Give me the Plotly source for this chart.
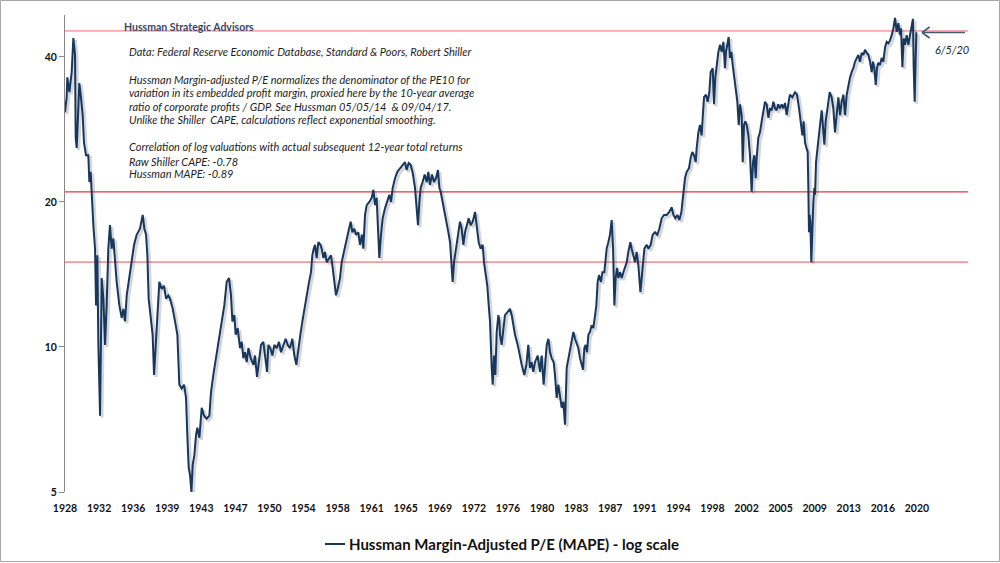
import plotly.graph_objects as go

# ---- data (decimal year, MAPE value) ----
mape_year = [
    1928.90, 1929.08, 1929.15, 1929.37, 1929.62, 1929.80, 1929.98, 1930.05, 1930.16, 1930.33,
    1930.44, 1930.59, 1930.80, 1930.94, 1931.16, 1931.41, 1931.52, 1931.66, 1931.81, 1931.95,
    1932.13, 1932.24, 1932.38, 1932.49, 1932.67, 1932.85, 1933.03, 1933.21, 1933.38, 1933.56,
    1933.74, 1933.92, 1934.10, 1934.28, 1934.46, 1934.75, 1935.00, 1935.18, 1935.36, 1935.54,
    1935.79, 1936.07, 1936.33, 1936.61, 1936.97, 1937.26, 1937.44, 1937.62, 1937.76, 1937.90,
    1938.12, 1938.33, 1938.48, 1938.69, 1938.87, 1939.05, 1939.30, 1939.55, 1939.77, 1940.02,
    1940.20, 1940.49, 1940.74, 1940.99, 1941.20, 1941.45, 1941.71, 1941.92, 1942.06, 1942.21,
    1942.35, 1942.50, 1942.64, 1942.82, 1943.00, 1943.14, 1943.36, 1943.61, 1943.86, 1944.14,
    1944.43,
    1944.61, 1944.86, 1945.04, 1945.33, 1945.58, 1945.83, 1946.04, 1946.30, 1946.55, 1946.76,
    1946.91, 1947.12, 1947.26, 1947.48, 1947.73, 1947.91, 1948.09, 1948.27, 1948.45, 1948.63,
    1948.88, 1949.17, 1949.34, 1949.56, 1949.78, 1949.99, 1950.24, 1950.42, 1950.64, 1950.78,
    1950.99, 1951.21, 1951.43, 1951.68, 1951.93, 1952.14, 1952.39, 1952.64, 1952.86, 1953.11,
    1953.36, 1953.58, 1953.79, 1954.01, 1954.22, 1954.44, 1954.65, 1954.90, 1955.16, 1955.37,
    1955.51, 1955.66, 1955.80, 1955.98, 1956.16, 1956.38, 1956.52, 1956.70, 1956.88, 1957.06,
    1957.31, 1957.52, 1957.70, 1957.88, 1958.06, 1958.24, 1958.49, 1958.67, 1958.96, 1959.21,
    1959.46, 1959.64, 1959.82, 1960.03,
    1960.21, 1960.46, 1960.64, 1960.86, 1961.00, 1961.18, 1961.36, 1961.65, 1961.90, 1962.08,
    1962.26, 1962.43, 1962.58, 1962.72, 1962.90, 1963.08, 1963.33, 1963.58, 1963.80, 1963.98,
    1964.16, 1964.41, 1964.66, 1964.95, 1965.23, 1965.48, 1965.66, 1965.88, 1966.09, 1966.31,
    1966.56, 1966.74, 1966.88, 1967.03, 1967.17, 1967.38, 1967.60, 1967.82, 1967.99, 1968.17,
    1968.39, 1968.60, 1968.82, 1969.03, 1969.18, 1969.32, 1969.54, 1969.75, 1969.97, 1970.15,
    1970.33, 1970.50, 1970.61, 1970.76, 1970.97, 1971.22, 1971.40, 1971.58, 1971.76, 1971.94,
    1972.12, 1972.33, 1972.55, 1972.77, 1973.02, 1973.20, 1973.41, 1973.63, 1973.84, 1973.98,
    1974.20, 1974.34, 1974.49, 1974.63, 1974.81, 1974.92, 1975.06, 1975.20, 1975.35, 1975.53,
    1975.64,
    1975.71, 1975.88, 1976.06, 1976.24, 1976.53, 1976.78, 1976.96, 1977.14, 1977.32, 1977.61,
    1977.86, 1978.04, 1978.32, 1978.54, 1978.75, 1978.93, 1979.11, 1979.29, 1979.47, 1979.76,
    1980.01, 1980.19, 1980.40, 1980.55, 1980.73, 1980.91, 1981.09, 1981.26, 1981.48, 1981.62,
    1981.80, 1981.98, 1982.16, 1982.34, 1982.52, 1982.70, 1982.88, 1983.06, 1983.24, 1983.42,
    1983.60, 1983.78, 1983.96, 1984.13, 1984.31, 1984.49, 1984.64, 1984.78, 1984.92, 1985.07,
    1985.21, 1985.39, 1985.57, 1985.75, 1985.93, 1986.07, 1986.21, 1986.36, 1986.57, 1986.72,
    1986.93, 1987.18, 1987.36, 1987.54, 1987.72, 1987.87, 1988.01, 1988.15, 1988.30, 1988.44,
    1988.62, 1988.80, 1988.98, 1989.16, 1989.34, 1989.51, 1989.73, 1989.87, 1990.05, 1990.23,
    1990.41, 1990.59, 1990.81, 1990.95, 1991.13, 1991.24,
    1991.49, 1991.67, 1991.92, 1992.13, 1992.38, 1992.63, 1992.85, 1993.10, 1993.35, 1993.64,
    1993.92, 1994.18, 1994.36, 1994.57, 1994.79, 1995.00, 1995.22, 1995.43, 1995.61, 1995.79,
    1996.04, 1996.22, 1996.40, 1996.58, 1996.76, 1996.87, 1997.05, 1997.22, 1997.40, 1997.51,
    1997.66, 1997.87, 1998.05, 1998.23, 1998.37, 1998.59, 1998.73, 1998.87, 1999.02, 1999.20,
    1999.38, 1999.56, 1999.74, 1999.91, 2000.02, 2000.17, 2000.31, 2000.45, 2000.60, 2000.74,
    2000.92, 2001.10, 2001.24, 2001.39, 2001.53, 2001.71, 2001.82, 2001.96, 2002.10, 2002.25,
    2002.43, 2002.60, 2002.78, 2002.93, 2003.07, 2003.22, 2003.32, 2003.50, 2003.68, 2003.86,
    2004.04, 2004.22, 2004.40, 2004.58, 2004.76, 2004.94, 2005.12, 2005.30, 2005.47, 2005.65,
    2005.83, 2006.01, 2006.19, 2006.37, 2006.55, 2006.73, 2006.84,
    2006.91, 2007.16, 2007.45, 2007.66, 2007.88, 2008.09, 2008.24, 2008.38, 2008.52, 2008.67,
    2008.81, 2008.88, 2008.95, 2009.02, 2009.10, 2009.20, 2009.31, 2009.42, 2009.53, 2009.60,
    2009.71, 2009.85, 2009.96, 2010.14, 2010.32, 2010.50, 2010.60, 2010.75, 2010.96, 2011.18,
    2011.39, 2011.57, 2011.75, 2011.93, 2012.11, 2012.29, 2012.47, 2012.65, 2012.83, 2013.01,
    2013.19, 2013.36, 2013.54, 2013.72, 2013.90, 2014.08, 2014.26, 2014.44, 2014.62, 2014.80,
    2014.98, 2015.16, 2015.34, 2015.52, 2015.70, 2015.84, 2015.98, 2016.13, 2016.27, 2016.41,
    2016.59, 2016.77, 2016.95, 2017.13, 2017.31, 2017.49, 2017.67, 2017.85, 2018.03, 2018.21,
    2018.39, 2018.57, 2018.75, 2018.85, 2019.00, 2019.14, 2019.28, 2019.46, 2019.64, 2019.82,
    2020.00, 2020.14, 2020.21, 2020.32, 2020.43, 2020.50,
]

mape_value = [
    30.7, 33.0, 36.3, 33.8, 37.2, 43.8, 40.4, 27.2, 25.9, 33.0,
    35.3, 33.4, 30.3, 26.6, 25.0, 25.0, 22.0, 23.1, 20.0, 17.9,
    16.0, 12.2, 15.5, 10.1, 7.2, 13.9, 12.6, 10.1, 12.2, 16.0,
    17.9, 16.0, 16.8, 15.0, 13.65, 12.2, 11.5, 12.0, 11.3, 12.8,
    13.9, 15.0, 16.3, 17.1, 17.6, 18.8, 17.6, 17.1, 15.5, 12.6,
    11.3, 10.6, 8.75, 10.4, 12.0, 13.65, 13.2, 13.4, 12.6, 12.8,
    12.6, 12.0, 11.3, 10.6, 8.35, 8.2, 8.35, 7.84, 6.57, 5.61,
    5.43, 5.0, 5.69, 5.97, 6.57, 6.8, 6.48, 7.48, 7.2, 7.1,
    7.2,
    8.06, 8.75, 9.18, 10.1, 10.75, 11.3, 12.2, 13.65, 13.9, 12.8,
    11.3, 11.65, 10.6, 10.95, 9.95, 10.25, 9.48, 9.75, 9.3, 9.95,
    9.48, 9.18, 9.6, 8.67, 9.48, 10.1, 10.25, 9.6, 8.88, 10.1,
    9.95, 9.6, 10.1, 9.95, 10.25, 9.75, 10.1, 10.4, 10.1, 9.95,
    10.4, 9.6, 9.18, 9.95, 10.6, 11.3, 12.0, 12.8, 13.65, 14.3,
    15.5, 16.0, 16.3, 15.3, 16.5, 16.3, 16.0, 15.3, 15.75, 15.0,
    15.3, 15.5, 14.6, 13.65, 12.8, 13.2, 13.9, 15.0, 16.0, 16.8,
    17.6, 18.2, 17.3, 17.6,
    17.1, 17.3, 16.3, 17.1, 16.0, 18.8, 19.7, 20.0, 20.4, 21.2,
    19.7, 20.4, 17.6, 15.3, 17.1, 18.5, 19.4, 20.0, 20.7, 20.0,
    21.4, 22.4, 23.1, 23.5, 23.9, 24.2, 23.3, 24.1, 23.9, 23.0,
    21.4, 19.7, 17.9, 20.0, 21.4, 22.0, 22.8, 22.0, 23.1, 21.7,
    22.8, 22.0, 22.4, 23.3, 21.4, 21.0, 20.0, 19.07, 18.2, 17.3,
    16.5, 14.6, 13.65, 15.0, 16.0, 17.6, 18.2, 17.6, 16.3, 17.3,
    17.9, 18.5, 17.9, 18.2, 19.07, 17.9, 16.5, 16.0, 16.3, 15.0,
    13.9, 13.4, 12.2, 11.3, 9.05, 8.35, 9.6, 8.75, 10.75, 11.65,
    11.3,
    10.6, 10.1, 10.75, 11.65, 11.83, 12.0, 11.65, 11.1, 10.6, 10.1,
    9.48, 9.18, 8.75, 9.18, 10.1, 9.05, 9.3, 8.88, 9.3, 9.6,
    8.88, 9.6, 8.35, 9.3, 10.1, 10.4, 9.75, 9.48, 9.3, 8.75,
    7.84, 8.35, 7.95, 7.48, 7.7, 6.9, 9.05, 9.48, 9.75, 10.4,
    10.75, 10.4, 10.1, 9.95, 9.48, 9.18, 8.97, 9.95, 10.1, 9.75,
    10.6, 10.75, 11.1, 10.95, 11.83, 12.2, 13.65, 14.1, 13.65, 14.3,
    14.3, 16.0, 16.5, 17.1, 18.35, 16.0, 12.2, 13.9, 14.6, 13.9,
    14.3, 13.9, 14.3, 14.6, 15.0, 15.75, 16.5, 16.0, 15.5, 15.0,
    15.75, 14.8, 13.0, 13.9, 15.0, 16.0,
    16.3, 16.0, 16.3, 17.1, 17.3, 17.1, 17.6, 18.5, 18.8, 18.8,
    19.07, 19.5, 18.8, 18.5, 18.8, 18.35, 19.07, 21.0, 22.4, 23.1,
    23.5, 24.7, 25.4, 25.0, 24.2, 25.9, 27.9, 28.9, 27.5, 29.9,
    33.0, 33.4, 32.3, 33.8, 37.2, 37.9, 31.9, 36.2, 38.5, 41.0,
    42.4, 41.0, 43.0, 37.9, 41.0, 42.4, 44.0, 39.8, 41.0, 38.5,
    36.2, 34.5, 32.3, 28.9, 31.9, 30.3, 24.2, 28.9, 29.4, 28.9,
    27.5, 25.0, 21.0, 24.2, 25.0, 22.4, 24.7, 27.2, 27.9, 29.4,
    31.0, 32.3, 31.9, 29.9, 31.3, 31.0, 32.3, 31.3, 31.0, 31.9,
    31.3, 31.9, 31.3, 32.1, 30.3, 32.3, 33.0,
    33.4, 33.0, 33.8, 33.4, 31.3, 28.5, 27.5, 29.4, 26.6, 25.9,
    25.4, 21.4, 17.3, 18.8, 18.2, 15.0, 18.2, 20.0, 21.4, 20.7,
    24.2, 25.9, 27.5, 28.9, 31.0, 28.5, 26.3, 29.4, 31.9, 33.8,
    33.0, 31.3, 27.9, 31.0, 33.0, 30.3, 32.3, 33.4, 30.3, 33.4,
    35.0, 36.2, 37.2, 37.9, 39.1, 39.8, 40.4, 39.1, 40.8, 40.4,
    41.4, 40.8, 40.4, 39.1, 37.2, 39.1, 37.9, 35.0, 37.9, 38.9,
    38.5, 39.8, 39.1, 41.8, 43.0, 42.7, 43.3, 44.4, 45.9, 48.2,
    45.1, 47.0, 44.4, 45.9, 38.1, 43.7, 42.4, 44.4, 42.4, 44.4,
    46.6, 48.0, 38.5, 32.3, 39.8, 45.0,
]

x_tick_labels = ["1928", "1932", "1936", "1939", "1943", "1947", "1950", "1954", "1958",
                 "1961", "1965", "1969", "1972", "1976", "1980", "1983", "1987", "1991",
                 "1994", "1998", "2002", "2005", "2009", "2013", "2016", "2020"]
y_tick_values = [5, 10, 20, 40]
reference_levels = [45.3, 21.0, 15.0]
reference_colors = ["#E96A6C", "#E2393D", "#F29A9C"]
reference_widths = [1.0, 1.3, 1.8]

series_name = "Hussman Margin-Adjusted P/E (MAPE) - log scale"
header_text = "Hussman Strategic Advisors"
note_lines = [
    "Data: Federal Reserve Economic Database, Standard & Poors, Robert Shiller",
    "Hussman Margin-adjusted P/E normalizes the denominator of the PE10 for",
    "variation in its embedded profit margin, proxied here by the 10-year average",
    "ratio of corporate profits / GDP. See Hussman 05/05/14  &amp; 09/04/17.",
    "Unlike the Shiller  CAPE, calculations reflect exponential smoothing.",
    "Correlation of log valuations with actual subsequent 12-year total returns",
    "Raw Shiller CAPE: -0.78",
    "Hussman MAPE: -0.89",
]
note_y = [0.9245, 0.8658, 0.8365, 0.8092, 0.7799, 0.7233, 0.6939, 0.6667]
date_label = "6/5/20"

# ---- axes geometry ----
x_range = [1928.9, 2026.06]
y_range_log = [0.69897, 1.6892]
tick_step = 44 / 12.0
x_tick_pos = [x_range[0] + i * tick_step for i in range(len(x_tick_labels))]
# shadow offset: ~2 px right and ~2 px down
sx = 2 * (x_range[1] - x_range[0]) / 903
sy = 2 * (y_range_log[1] - y_range_log[0]) / 477

FONT = "Lato, 'Open Sans', sans-serif"
LINE_COL = "#17375E"

fig = go.Figure()

# soft drop shadow (same data, drawn on slightly offset hidden axes)
fig.add_trace(go.Scatter(
    x=mape_year, y=mape_value, mode="lines", xaxis="x", yaxis="y",
    line=dict(color="rgba(70,70,70,0.22)", width=3.0),
    hoverinfo="skip", showlegend=False,
))
# main series
fig.add_trace(go.Scatter(
    x=mape_year, y=mape_value, mode="lines", xaxis="x2", yaxis="y2",
    name=series_name, line=dict(color=LINE_COL, width=2.0),
    showlegend=False,
))

shapes = []
for lvl, col, w in zip(reference_levels, reference_colors, reference_widths):
    shapes.append(dict(type="line", xref="paper", yref="y2", x0=0, x1=1, y0=lvl, y1=lvl,
                       line=dict(color=col, width=w), layer="below"))

# arrow pointing at the latest value
arrow_col = "#3F5E6E"
shapes.append(dict(type="line", xref="paper", yref="paper", x0=0.9967, x1=0.9491,
                   y0=0.9633, y1=0.9633, line=dict(color=arrow_col, width=1.6)))
shapes.append(dict(type="line", xref="paper", yref="paper", x0=0.9491, x1=0.9575,
                   y0=0.9633, y1=0.9748, line=dict(color=arrow_col, width=1.6)))
shapes.append(dict(type="line", xref="paper", yref="paper", x0=0.9491, x1=0.9575,
                   y0=0.9633, y1=0.9518, line=dict(color=arrow_col, width=1.6)))

# legend sample line (drawn manually so that it does not move the plot area)
shapes.append(dict(type="line", xref="paper", yref="paper", x0=0.2879, x1=0.3101,
                   y0=-0.1090, y1=-0.1090, line=dict(color=LINE_COL, width=2)))

# outer frame of the picture
shapes.append(dict(type="rect", xref="paper", yref="paper", x0=-0.07143, x1=1.03488,
                   y0=-0.1457, y1=1.0304, line=dict(color="#A6A6A6", width=1)))

annotations = [dict(xref="paper", yref="paper", x=0.0631, y=0.9748, xanchor="left",
                    yanchor="middle", text="<b>" + header_text + "</b>", showarrow=False,
                    font=dict(family=FONT, size=10.5, color="#3A4566"))]
for txt, yy in zip(note_lines, note_y):
    annotations.append(dict(xref="paper", yref="paper", x=0.0687, y=yy, xanchor="left",
                            yanchor="middle", text="<i>" + txt + "</i>", showarrow=False,
                            font=dict(family=FONT, size=11.0, color="#1E1E1E")))
annotations.append(dict(xref="paper", yref="paper", x=0.9612, y=0.9287, xanchor="left",
                        yanchor="middle", text="<i>" + date_label + "</i>", showarrow=False,
                        font=dict(family=FONT, size=11, color="#1E1E1E")))
annotations.append(dict(xref="paper", yref="paper", x=0.3123, y=-0.1090, xanchor="left",
                        yanchor="middle", text="<b>" + series_name + "</b>", showarrow=False,
                        font=dict(family=FONT, size=15, color="#111111")))

fig.update_layout(
    width=1000, height=563,
    margin=dict(l=65, r=32, t=15, b=71),
    paper_bgcolor="white", plot_bgcolor="white",
    font=dict(family=FONT, color="#111111"),
    xaxis=dict(range=[x_range[0] - sx, x_range[1] - sx], visible=False, fixedrange=True),
    yaxis=dict(type="log", range=[y_range_log[0] + sy, y_range_log[1] + sy], visible=False),
    xaxis2=dict(overlaying="x", range=x_range, showgrid=False, zeroline=False,
                showline=False, tickmode="array", tickvals=x_tick_pos,
                ticktext=["<b>" + t + "</b>" for t in x_tick_labels],
                ticks="outside", ticklen=6, tickcolor="rgba(0,0,0,0)",
                tickfont=dict(family=FONT, size=10.5, color="#111111")),
    yaxis2=dict(overlaying="y", type="log", range=y_range_log, showgrid=False,
                zeroline=False, showline=True, linecolor="#868686", linewidth=1,
                tickmode="array", tickvals=y_tick_values,
                ticktext=["<b>%d</b>" % v for v in y_tick_values],
                ticks="outside", ticklen=5, tickcolor="#868686",
                tickfont=dict(family=FONT, size=10.5, color="#111111"), side="left"),
    shapes=shapes,
    annotations=annotations,
    showlegend=False,
)

fig.write_html("out.html", config={"displayModeBar": False},
               post_script="document.body.style.margin='0px';")
